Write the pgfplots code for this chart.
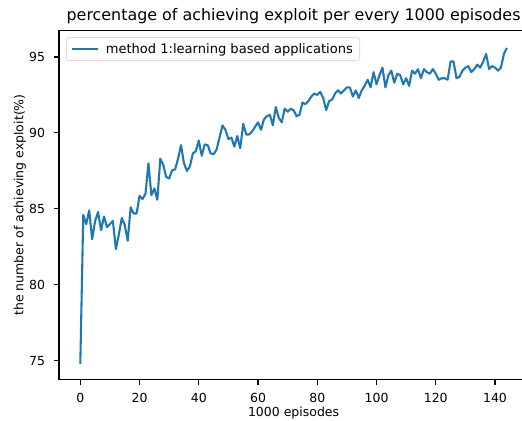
\documentclass[border=0pt]{standalone}
\usepackage{pgfplots}
\pgfplotsset{compat=1.18}
\usepackage{fontspec}
\setmainfont{DejaVu Sans}
\definecolor{mplblue}{HTML}{1F77B4}
\pgfplotstableread{
x y
0 74.8
1 84.6
2 84.0
3 84.9
4 83.0
5 84.2
6 84.8
7 83.6
8 84.5
9 83.8
10 84.0
11 84.2
12 82.35
13 83.3
14 84.4
15 83.95
16 82.9
17 85.1
18 84.7
19 84.7
20 85.85
21 85.65
22 86.0
23 88.0
24 85.9
25 86.35
26 85.6
27 88.3
28 87.9
29 87.1
30 87.0
31 87.55
32 87.6
33 88.3
34 89.2
35 88.0
36 87.5
37 87.8
38 88.65
39 88.8
40 89.5
41 88.5
42 89.25
43 89.2
44 88.65
45 88.6
46 88.9
47 89.7
48 90.5
49 90.2
50 89.6
51 89.7
52 89.1
53 89.8
54 89.0
55 90.6
56 89.9
57 89.9
58 90.1
59 90.4
60 90.7
61 90.2
62 90.9
63 91.1
64 91.2
65 90.5
66 91.7
67 91.0
68 90.7
69 91.6
70 91.4
71 91.6
72 91.5
73 91.1
74 91.2
75 92.0
76 91.9
77 92.1
78 92.4
79 92.6
80 92.5
81 92.7
82 92.3
83 91.5
84 92.1
85 92.2
86 92.6
87 92.8
88 92.6
89 92.8
90 93.0
91 93.0
92 92.4
93 92.8
94 92.3
95 92.8
96 93.1
97 93.5
98 93.0
99 94.0
100 93.2
101 93.8
102 94.3
103 93.0
104 93.8
105 94.1
106 93.3
107 93.9
108 93.8
109 93.2
110 93.6
111 93.1
112 94.1
113 93.9
114 94.2
115 93.6
116 94.2
117 94.0
118 93.9
119 94.2
120 93.9
121 93.5
122 93.6
123 93.6
124 93.5
125 94.7
126 94.7
127 93.6
128 93.7
129 94.1
130 94.3
131 94.4
132 94.0
133 94.2
134 94.5
135 94.3
136 94.7
137 95.2
138 94.2
139 94.4
140 94.3
141 94.1
142 94.3
143 95.2
144 95.6
}\datatable
\begin{document}
\begin{tikzpicture}
\begin{axis}[
  scale only axis,
  width=338pt, height=251.7pt,
  xmin=-7.2, xmax=151.2,
  ymin=73.75, ymax=96.75,
  xtick={0,20,40,60,80,100,120,140},
  ytick={75,80,85,90,95},
  tick pos=left,
  tick align=outside,
  major tick length=3.5pt,
  every tick/.style={black, line width=0.8pt},
  axis line style={line width=0.8pt},
  /pgf/number format/assume math mode=true,
  tick label style={font=\fontsize{9}{11}\selectfont},
  xticklabel style={yshift=-2.5pt},
  yticklabel style={xshift=-3pt},
  xlabel={1000 episodes},
  ylabel={the number of achieving exploit(\%)},
  xlabel style={font=\fontsize{9}{11}\selectfont, at={(axis description cs:0.5,-0.094)}, anchor=center},
  ylabel style={font=\fontsize{9}{11}\selectfont, at={(axis description cs:-0.083,0.5)}, anchor=center, rotate=0},
  title={percentage of achieving exploit per every 1000 episodes},
  title style={font=\fontsize{11.45}{13}\selectfont, at={(axis description cs:0.5,1.041)}, anchor=center, yshift=-6pt},
  legend cell align=left,
  legend style={draw=black!20, rounded corners=2pt, fill=white, fill opacity=0.8, text opacity=1,
    font=\fontsize{9.4}{11}\selectfont, at={(axis description cs:0.015,0.98)}, anchor=north west,
    inner xsep=3pt, inner ysep=2pt},
  legend image code/.code={\draw[#1] (0pt,0pt) -- (19pt,0pt); \path (22pt,0pt);},
]
\addplot[mplblue, line width=1.5pt, line join=round] table[x=x,y=y] {\datatable};
\addlegendentry{method 1:learning based applications}
\coordinate (BL) at (axis description cs:-0.1257,-0.1173);
\coordinate (TR) at (axis description cs:0.9868,1.087);
\end{axis}
\pgfresetboundingbox
\useasboundingbox (BL) rectangle (TR);
\end{tikzpicture}
\end{document}
